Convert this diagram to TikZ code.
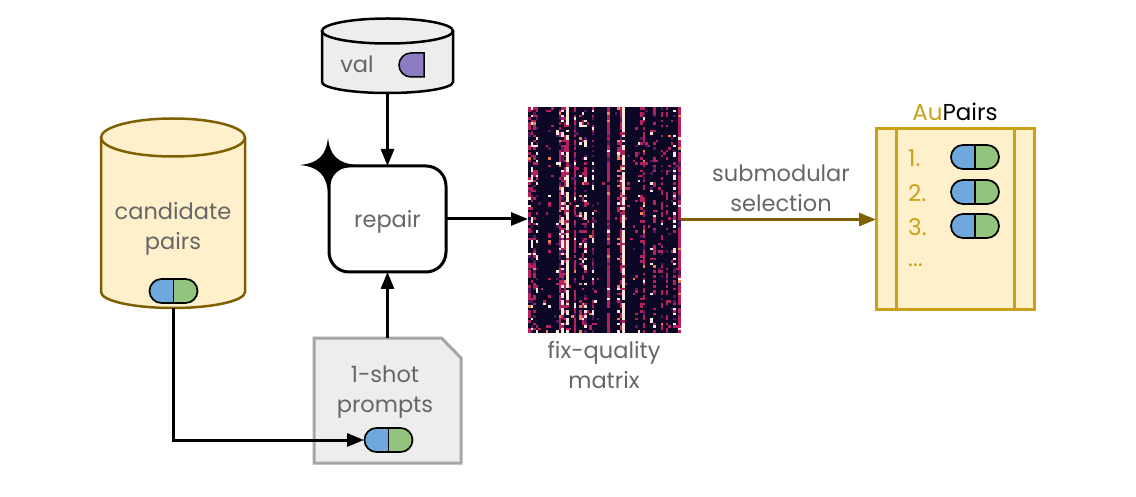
\documentclass[tikz,border=0pt]{standalone}
\usepackage{fontspec}
\setmainfont{Poppins}
\usetikzlibrary{arrows.meta}
\definecolor{txtgrey}{HTML}{666666}
\definecolor{creamfill}{HTML}{FFF0CC}
\definecolor{olive}{HTML}{7F6000}
\definecolor{gold}{HTML}{C9A018}
\definecolor{paleg}{HTML}{EDEDED}
\definecolor{docline}{HTML}{A6A6A6}
\definecolor{pillblue}{HTML}{6FA8DC}
\definecolor{pillgreen}{HTML}{93C47D}
\definecolor{purp}{HTML}{8E7CC3}
\definecolor{matbg}{HTML}{0B0724}
\definecolor{matc}{HTML}{B5205F}
\definecolor{matw}{HTML}{FBE6DC}
\definecolor{mato}{HTML}{F0805A}
\definecolor{matp}{HTML}{55185E}
\tikzset{
  x=1pt,y=-1pt,
  anchorbox/.style={inner sep=0pt,outer sep=0pt},
  label text/.style={text=txtgrey,font=\fontsize{22.5}{30}\selectfont,align=center,inner sep=0pt},
  list text/.style={text=gold,font=\fontsize{23}{30}\selectfont,inner sep=0pt,anchor=west},
  conn/.style={line width=3pt,-{Triangle[length=17pt,width=13pt]}},
  goldconn/.style={line width=3pt,olive,-{Triangle[length=17pt,width=13pt]}},
}
\newcommand{\pillat}[3]{%
  \node[anchorbox,minimum width=48pt,minimum height=25pt] (#1) at (#2,#3) {};
  \fill[pillblue] (#2,#3-12) -- (#2-12,#3-12) arc[start angle=90,end angle=270,radius=12pt] -- (#2,#3+12) -- cycle;
  \fill[pillgreen] (#2,#3-12) -- (#2+12,#3-12) arc[start angle=90,end angle=-90,radius=12pt] -- (#2,#3+12) -- cycle;
  \draw[line width=1.7pt,rounded corners=12pt] (#2-24,#3-12) rectangle (#2+24,#3+12);
  \draw[line width=1.7pt] (#2,#3-12) -- (#2,#3+12);
}
\begin{document}
\begin{tikzpicture}
\useasboundingbox (0,0) rectangle (1136,497);

% candidate pairs
\fill[creamfill] (101,137) -- (101,292) arc[start angle=180,end angle=360,x radius=72pt,y radius=16pt] -- (245,137) -- cycle;
\draw[olive,line width=2.5pt] (101,137) -- (101,292) arc[start angle=180,end angle=360,x radius=72pt,y radius=16pt] -- (245,137);
\draw[olive,line width=2.5pt,fill=creamfill] (173,137.5) ellipse[x radius=72pt,y radius=19pt];
\node[anchorbox,minimum width=144pt,minimum height=190pt] (cand) at (173,213) {};
\node[label text] (candtext) at (173,228.5) {candidate\\pairs};
\pillat{pilla}{173.5}{291}

% val
\fill[paleg] (322,31) -- (322,82) arc[start angle=180,end angle=360,x radius=65.5pt,y radius=11pt] -- (453,31) -- cycle;
\draw[line width=2.5pt] (322,31) -- (322,82) arc[start angle=180,end angle=360,x radius=65.5pt,y radius=11pt] -- (453,31);
\draw[line width=2.5pt,fill=paleg] (387.5,31) ellipse[x radius=65.5pt,y radius=12.5pt];
\node[anchorbox,minimum width=131pt,minimum height=74pt] (val) at (387.5,56) {};
\node[label text] (valtext) at (357,64) {val};
\draw[line width=1.5pt,fill=purp] (424,53) -- (411,53) arc[start angle=90,end angle=270,radius=12pt] -- (424,77) -- cycle;

% repair
\fill (328,138) .. controls (330,155) and (337,163) .. (356,165) .. controls (337,167) and (330,175) .. (328,192)
  .. controls (326,175) and (319,167) .. (300,165) .. controls (319,163) and (326,155) .. (328,138) -- cycle;
\node[draw,line width=3pt,fill=white,rounded corners=20pt,minimum width=117pt,minimum height=106pt,anchorbox] (repair) at (387.5,219) {};
\node[label text] (repairtext) at (387.5,222) {repair};

% prompts
\node[anchorbox,minimum width=147pt,minimum height=125pt] (doc) at (387.5,400.5) {};
\draw[docline,line width=3pt,fill=paleg] (314,338) -- (441.5,338) -- (461,358) -- (461,463) -- (314,463) -- cycle;
\node[label text] (doctext) at (385,392) {1-shot\\prompts};

% matrix
\node[anchorbox,minimum width=153pt,minimum height=226pt] (mat) at (604.5,220) {};
\fill[matbg] (528,107) rectangle (681,333);
\pgfmathsetseed{4217}
\foreach \col/\den/\kind in {0/60/1,1/55/2,2/50/1,3/30/2,4/6/1,5/1/1,6/1/1,7/2/1,8/22/1,9/3/1,10/1/2,11/8/2,12/75/1,13/80/2,14/55/1,15/94/4,16/6/1,17/2/1,18/90/1,19/5/1,20/22/3,21/35/1,22/55/2,23/3/1,24/5/1,25/55/2,26/5/1,27/1/1,28/1/1,29/1/1,30/2/1,31/97/1,32/2/1,33/1/1,34/2/1,35/40/3,36/75/1,37/97/4,38/3/1,39/3/1,40/2/1,41/6/1,42/10/1,43/6/2,44/30/1,45/70/1,46/4/1,47/3/1,48/8/2,49/40/1,50/4/1,51/6/1,52/45/1,53/3/1,54/40/1,55/10/1,56/6/1,57/50/2,58/4/1,59/98/1}{
  \foreach \row in {0,...,89}{
    \pgfmathrandominteger{\rr}{0}{99}
    \ifnum\rr<\den\relax
      \pgfmathrandominteger{\cc}{0}{19}
      \ifnum\kind=4\relax
        \ifnum\cc<16\relax\def\cellc{matw}\else\def\cellc{matc}\fi
      \else\ifnum\kind=2\relax
        \ifnum\cc<10\relax\def\cellc{matw}\else\ifnum\cc<16\relax\def\cellc{matc}\else\def\cellc{matp}\fi\fi
      \else\ifnum\kind=3\relax
        \ifnum\cc<9\relax\def\cellc{mato}\else\ifnum\cc<14\relax\def\cellc{matw}\else\def\cellc{matc}\fi\fi
      \else
        \ifnum\cc<15\relax\def\cellc{matc}\else\ifnum\cc<18\relax\def\cellc{matp}\else\ifnum\cc<19\relax\def\cellc{mato}\else\def\cellc{matw}\fi\fi\fi
      \fi\fi\fi
      \fill[\cellc] ({528+2.55*\col},{107+2.511*\row}) rectangle +(2.55,2.511);
    \fi
  }
}
\node[label text] (matlabel) at (604,365.5) {fix-quality\\matrix};

% AuPairs
\node[anchorbox,draw=gold,line width=3pt,fill=creamfill,minimum width=158pt,minimum height=181pt] (au) at (955,219.5) {};
\draw[gold,line width=3pt] (896,129) -- (896,310) (1014,129) -- (1014,310);
\node[inner sep=0pt,font=\fontsize{23}{30}\selectfont] (autitle) at (955,112) {\textcolor{gold}{Au}Pairs};
\node[list text] (n1) at (908,158) {1.};
\node[list text] (n2) at (908,193) {2.};
\node[list text] (n3) at (908,227) {3.};
\node[list text] (n4) at (908,265) {...};
\pillat{pillb}{975}{157}
\pillat{pillc}{975}{192}
\pillat{pilld}{975}{226}

% connectors
\draw[conn] (val.south) -- (repair.north);
\draw[conn] (doc.north) -- (repair.south);
\draw[conn] (repair.east) -- (repair.east -| mat.west);
\draw[goldconn] (mat.east |- au.west) -- (au.west);
\node[label text] (sub) at (781,188) {submodular\\selection};
\coordinate (bend) at (cand.south |- 0,440);
\draw[conn,line join=miter] (cand.south) -- (bend) -- (364,440);
\pillat{pille}{388.5}{440}
\end{tikzpicture}
\end{document}
